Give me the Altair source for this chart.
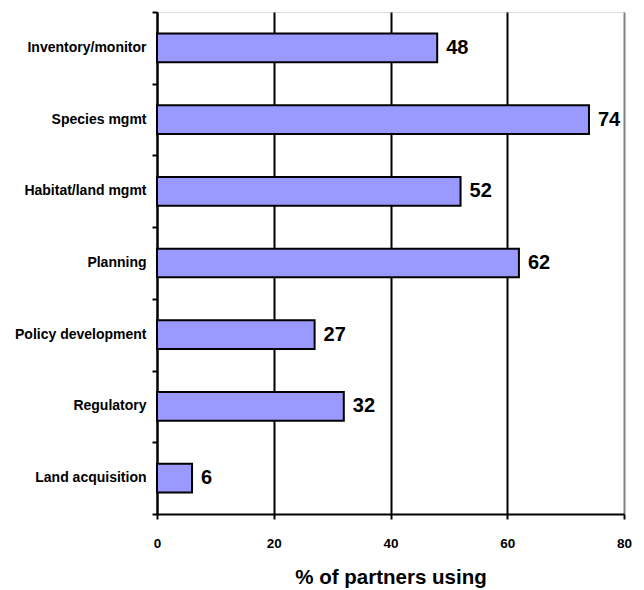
import altair as alt
import pandas as pd

categories = ["Inventory/monitor", "Species mgmt", "Habitat/land mgmt", "Planning",
              "Policy development", "Regulatory", "Land acquisition"]
values = [48, 74, 52, 62, 27, 32, 6]
x_ticks = [0, 20, 40, 60, 80]
boundaries = list(range(len(categories) + 1))

df = pd.DataFrame({"cat": categories, "val": values})
bdf = pd.DataFrame({"b": boundaries})

FONT = "Liberation Sans"

y_enc = alt.Y("cat:N", sort=categories,
              scale=alt.Scale(paddingInner=0.6, paddingOuter=0.3),
              axis=alt.Axis(title=None, ticks=False, domain=True, domainColor="black",
                            domainWidth=2, labelFont=FONT, labelFontWeight="bold",
                            labelFontSize=14, labelColor="black", labelPadding=11,
                            grid=False))
x_enc = alt.X("val:Q", scale=alt.Scale(domain=[0, 80], nice=False),
              axis=alt.Axis(title="% of partners using", values=x_ticks, format="d",
                            grid=True, labelFlush=False,
                            gridColor={"condition": {"test": "datum.value == 80", "value": "#808080"},
                                       "value": "black"},
                            gridWidth=2, domainColor="black", domainWidth=2,
                            tickColor="black", tickWidth=2, tickSize=5,
                            labelFont=FONT, labelFontWeight="bold", labelFontSize=13.5,
                            labelColor="black", labelPadding=17,
                            titleFont=FONT, titleFontWeight="bold", titleFontSize=20.5,
                            titleColor="black", titlePadding=18))

bars = alt.Chart(df).mark_bar(color="#9999FF", stroke="black", strokeWidth=2).encode(
    x=x_enc, y=y_enc)

labels = alt.Chart(df).mark_text(align="left", baseline="middle", dx=9, font=FONT,
                                 fontWeight="bold", fontSize=20, color="black").encode(
    x="val:Q", y=alt.Y("cat:N", sort=categories), text="val:Q")

main = alt.layer(bars, labels)

ticks = alt.Chart(bdf).mark_point(opacity=0).encode(
    y=alt.Y("b:Q", scale=alt.Scale(domain=[0, len(categories)], nice=False, zero=False),
            axis=alt.Axis(orient="left", title=None, values=boundaries, labels=False,
                          domain=False, grid=False, tickColor="black", tickWidth=2,
                          tickSize=5)))

chart = alt.layer(main, ticks).resolve_scale(y="independent").properties(
    width=467, height=502,
    autosize=alt.AutoSizeParams(type="none"),
    padding={"left": 157, "top": 12, "right": 20, "bottom": 76},
).configure_view(stroke="#808080", strokeWidth=2).configure(background="white")

chart.save("out.html", embed_options={"renderer": "svg", "actions": False})
